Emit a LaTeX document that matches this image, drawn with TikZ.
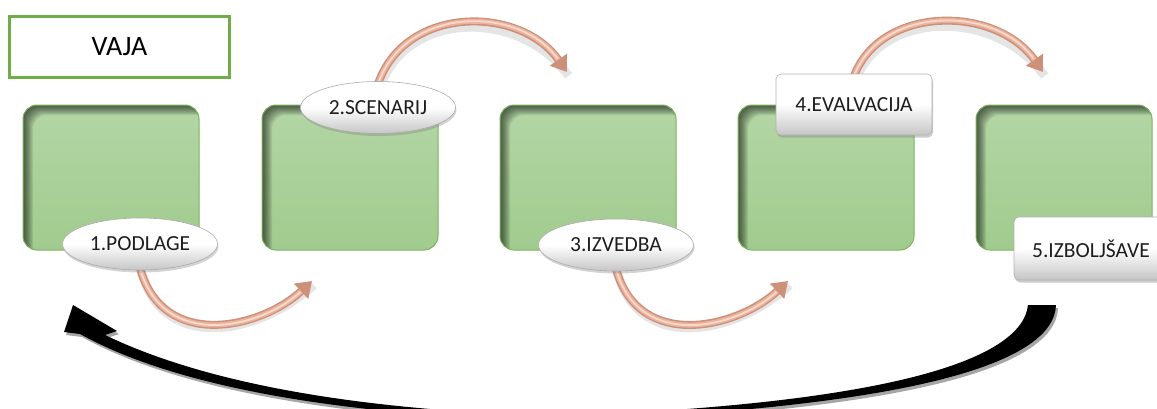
\documentclass[tikz,border=0pt]{standalone}
\usepackage{fontspec}
\setmainfont{Carlito}
\usetikzlibrary{shapes.geometric,shadows,arrows.meta}

\definecolor{frameGreen}{HTML}{70AD47}
\definecolor{boxEdge}{HTML}{7DB25E}
\definecolor{boxTop}{HTML}{B3D6A5}
\definecolor{boxBottom}{HTML}{A1CB8E}
\definecolor{copperDark}{HTML}{CD917A}
\definecolor{copperMid}{HTML}{EBB39D}
\definecolor{copperLight}{HTML}{F8D9CB}
\definecolor{labelText}{HTML}{1E1E1E}

% orange curved connector: shadow, body with tip, two lighter layers
\newcommand\cuarrow[4]{%
  \draw[arrowshade,transform canvas={shift={(1.5pt,-4pt)}}] #1 .. controls #2 and #3 .. #4;
  \draw[arrowbody,-{Triangle[width=20pt,length=15pt]}] #1 .. controls #2 and #3 .. #4;
  \draw[arrowmid,shorten >=15pt] #1 .. controls #2 and #3 .. #4;
  \draw[arrowhigh,shorten >=16pt] #1 .. controls #2 and #3 .. #4;}

\begin{document}
\begin{tikzpicture}[x=1pt,y=-1pt,
  stagebox/.style={rectangle,rounded corners=14pt,draw=boxEdge,line width=1pt,
    top color=boxTop,bottom color=boxBottom,
    minimum width=176pt,minimum height=145pt,inner sep=0pt,
    path picture={%
      \foreach \d in {1,...,10}{%
        \fill[black,opacity=0.075,even odd rule,rounded corners=14pt]
          ([shift={(-30pt,30pt)}]path picture bounding box.north west) rectangle
          ([shift={(30pt,-30pt)}]path picture bounding box.south east)
          ([shift={(\d*1pt,-\d*1pt)}]path picture bounding box.north west) rectangle
          ([shift={(\d*1pt,-\d*1pt)}]path picture bounding box.south east);}}},
  ovallabel/.style={ellipse,draw=gray!65,line width=0.6pt,
    top color=white,bottom color=gray!45,middle color=white,
    drop shadow={shadow xshift=1pt,shadow yshift=-2.5pt,opacity=0.35},
    minimum width=155pt,minimum height=52pt,inner sep=0pt,
    font=\fontsize{21.5}{21.5}\selectfont,text=labelText},
  tablabel/.style={rectangle,rounded corners=5pt,draw=gray!60,line width=0.6pt,
    top color=white,bottom color=gray!45,middle color=white,
    drop shadow={shadow xshift=1pt,shadow yshift=-2.5pt,opacity=0.4},
    minimum width=156pt,minimum height=61pt,inner sep=0pt,
    font=\fontsize{21.5}{21.5}\selectfont,text=labelText},
  titlebox/.style={rectangle,draw=frameGreen,line width=3pt,fill=white,
    minimum width=220pt,minimum height=61pt,inner sep=0pt,
    font=\fontsize{28}{28}\selectfont,text=black},
  arrowshade/.style={line width=9pt,black,opacity=0.10},
  arrowbody/.style={line width=8pt,copperDark},
  arrowmid/.style={line width=5pt,copperMid},
  arrowhigh/.style={line width=1.8pt,copperLight},
  returnarrow/.style={fill=black},
  returnshadow/.style={fill=gray!70}]

\useasboundingbox (0,0) rectangle (1157,408);
\clip (0,0) rectangle (1157,408);

% title
\node[titlebox] (title) at (119.5,47) {VAJA};

% five stage boxes
\node[stagebox] (b1) at (111,177.5) {};
\node[stagebox] (b2) at (350,177.5) {};
\node[stagebox] (b3) at (588,177.5) {};
\node[stagebox] (b4) at (826,177.5) {};
\node[stagebox] (b5) at (1064,177.5) {};

% arrow end points
\coordinate (t1) at (312,281);
\coordinate (t2) at (567,72);
\coordinate (t3) at (788,281);
\coordinate (t4) at (1043,72);

% connector starts, hidden under the labels
\coordinate (s1) at (140,268);
\coordinate (s2) at (378,84);
\coordinate (s3) at (616,269);
\coordinate (s4) at (854,76);

% orange connectors between stages
\cuarrow{(s1)}{(163,352)}{(262,328)}{(t1)}
\cuarrow{(s2)}{(405,5)}{(520,5)}{(t2)}
\cuarrow{(s3)}{(639,352)}{(738,328)}{(t3)}
\cuarrow{(s4)}{(881,5)}{(996,5)}{(t4)}

% stage labels
\node[ovallabel] (l1) at (140,244) {1.PODLAGE};
\node[ovallabel] (l2) at (378,107.5) {2.SCENARIJ};
\node[ovallabel] (l3) at (616,245) {3.IZVEDBA};
\node[tablabel]  (l4) at (854,104.5) {4.EVALVACIJA};
\node[tablabel, minimum width=154pt, minimum height=63pt] (l5) at (1091,248.5) {5.IZBOLJŠAVE};

% black return arrow from the last stage back to the first
\coordinate (r1) at (1028,305);
\coordinate (r2) at (73,305);
\begin{scope}[transform canvas={shift={(2pt,-3pt)}}]
\fill[returnshadow] (r1) -- (1056,305) .. controls (1054,366) and (900,408) .. (560,421)
  .. controls (330,416) and (170,384) .. (80,334) -- (64,332) -- (r2) -- (117,331) -- (105,335)
  .. controls (190,376) and (330,410) .. (560,416)
  .. controls (880,404) and (1022,362) .. (r1) -- cycle;
\end{scope}
\fill[returnarrow] (r1) -- (1056,305) .. controls (1054,366) and (900,408) .. (560,421)
  .. controls (330,416) and (170,384) .. (80,334) -- (64,332) -- (r2) -- (117,331) -- (105,335)
  .. controls (190,376) and (330,410) .. (560,416)
  .. controls (880,404) and (1022,362) .. (r1) -- cycle;

\end{tikzpicture}
\end{document}
